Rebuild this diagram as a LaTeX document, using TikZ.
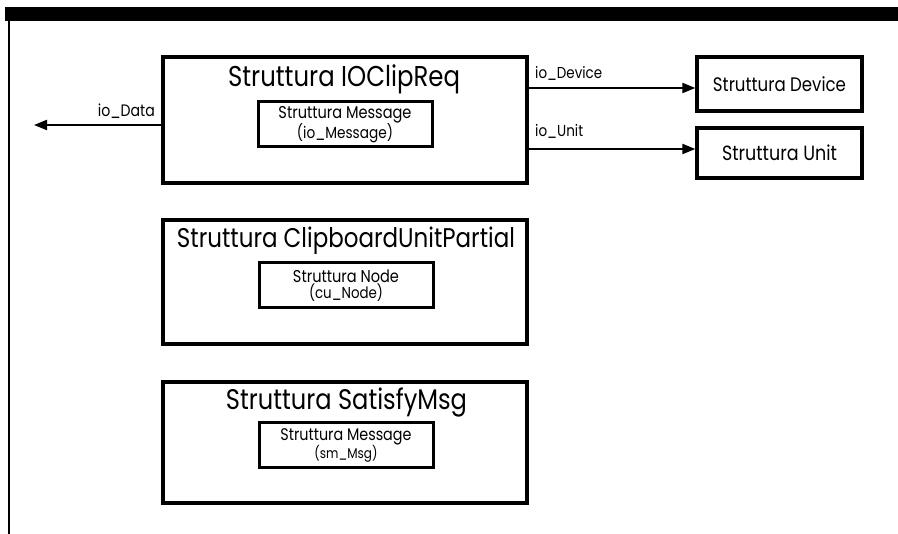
\documentclass[tikz,border=0pt]{standalone}
\usepackage{fontspec}
\setmainfont{Poppins}[FakeStretch=0.85]
\usetikzlibrary{arrows.meta}
\newcommand{\fw}[2]{\resizebox{#1pt}{!}{#2}}
\begin{document}
\begin{tikzpicture}[x=1pt,y=-1pt,
  box/.style={draw, line width=3.3pt, inner sep=0pt},
  inbox/.style={draw, line width=3pt, inner sep=0pt, align=center, font=\fontsize{13}{16}\selectfont},
  txt/.style={inner sep=0pt, anchor=base},
  arr/.style={line width=2pt, -{Triangle[length=13pt,width=10pt]}}]
\useasboundingbox (0,0) rectangle (898,534);
% top bar and left rule
\fill (5,7) rectangle (898,21);
\draw[line width=2.2pt] (9,21) -- (9,534);

% IOClipReq
\node[box, minimum width=364pt, minimum height=126pt] (ioclip) at (345,120) {};
\node[txt] (t1) at (344,87) {\fw{232}{Struttura IOClipReq}};
\node[inbox, minimum width=174pt, minimum height=45pt] (msg1) at (345,124.5)
  {\fw{133}{Struttura Message}\\\fw{96}{(io\_Message)}};

% Device / Unit
\node[box, minimum width=165pt, minimum height=54pt] (dev) at (779.5,84) {\fw{133}{Struttura Device}};
\node[box, minimum width=165pt, minimum height=50pt] (unit) at (779.5,153) {\fw{115}{Struttura Unit}};

\coordinate (dIn) at ([yshift=-4pt]dev.west);
\coordinate (uIn) at ([yshift=4pt]unit.west);
\coordinate (dataEnd) at (34,125);
\draw[arr] (ioclip.east |- dIn) -- (dIn);
\draw[arr] (ioclip.east |- uIn) -- (uIn);
\draw[arr] (ioclip.west |- dataEnd) -- (dataEnd);
\node[txt, anchor=base west] (ldev) at (535,79) {\fw{67}{io\_Device}};
\node[txt, anchor=base west] (lunit) at (535,137) {\fw{48}{io\_Unit}};
\node[txt, anchor=base east] (ldata) at (155,117) {\fw{57}{io\_Data}};

% ClipboardUnitPartial
\node[box, minimum width=364pt, minimum height=124pt] (clip) at (345,282) {};
\node[txt] (t2) at (346,248) {\fw{338}{Struttura ClipboardUnitPartial}};
\node[inbox, minimum width=174pt, minimum height=45pt] (cunode) at (346,285.5)
  {\fw{106}{Struttura Node}\\\fw{74}{(cu\_Node)}};

% SatisfyMsg
\node[box, minimum width=364pt, minimum height=121pt] (sat) at (345,442.5) {};
\node[txt] (t3) at (346.5,410) {\fw{241}{Struttura SatisfyMsg}};
\node[inbox, minimum width=174pt, minimum height=45pt] (smmsg) at (346,445.5)
  {\fw{131}{Struttura Message}\\\fw{63}{(sm\_Msg)}};
\end{tikzpicture}
\end{document}
